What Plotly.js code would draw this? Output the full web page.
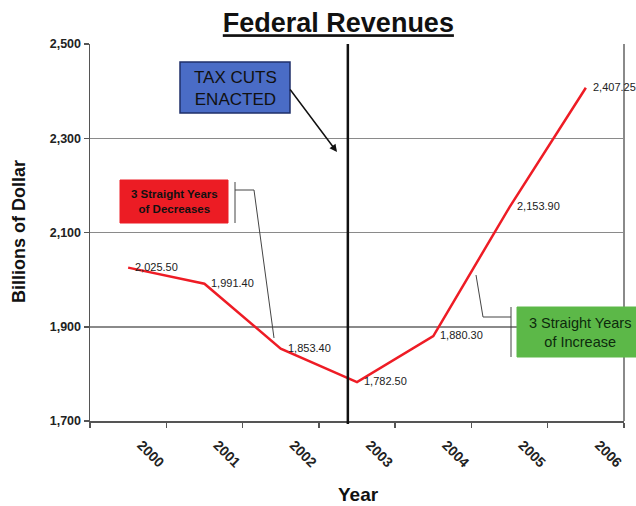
<!DOCTYPE html>
<html>
<head>
<meta charset="utf-8">
<script src="https://cdn.plot.ly/plotly-3.0.1.min.js"></script>
<style>html,body{margin:0;padding:0;background:#fff;}#chart{width:636px;height:506px;}</style>
</head>
<body>
<div id="chart"></div>
<script>
// Data
const years = ['2000', '2001', '2002', '2003', '2004', '2005', '2006'];
const revenues = [2025.50, 1991.40, 1853.40, 1782.50, 1880.30, 2153.90, 2407.25];
const valueLabels = ['2,025.50', '1,991.40', '1,853.40', '1,782.50', '1,880.30', '2,153.90', '2,407.25'];
const yTicks = [1700, 1900, 2100, 2300, 2500];
const yTickLabels = ['1,700', '1,900', '2,100', '2,300', '2,500'];

// Layout geometry (pixels)
const W = 636, H = 506;
const M = {l: 90, r: 12, t: 44, b: 85};
const PW = W - M.l - M.r, PH = H - M.t - M.b;
const px = X => (X - M.l) / PW;
const py = Y => (H - M.b - Y) / PH;

const FONT = 'Liberation Sans, Arial, sans-serif';

const trace = {
  type: 'scatter',
  mode: 'lines',
  x: years,
  y: revenues,
  line: {color: '#ee1c25', width: 2.5},
  hoverinfo: 'skip'
};

const line = (x0, y0, x1, y1, color, width) => ({
  type: 'line', xref: 'paper', yref: 'paper',
  x0: px(x0), y0: py(y0), x1: px(x1), y1: py(y1),
  line: {color: color, width: width}
});

const note = (X, Y, text, font, extra) => Object.assign({
  xref: 'paper', yref: 'paper', x: px(X), y: py(Y),
  xanchor: 'center', yanchor: 'middle', showarrow: false,
  text: text, font: font
}, extra || {});

const valueNotes = years.map((yr, i) => ({
  xref: 'x', yref: 'y', x: i, y: revenues[i],
  xanchor: 'left', yanchor: 'middle', xshift: 5, yshift: 1,
  showarrow: false, text: valueLabels[i],
  font: {family: FONT, size: 11, color: '#222'}
}));

const layout = {
  width: W, height: H,
  margin: M,
  paper_bgcolor: '#fff',
  plot_bgcolor: '#fff',
  showlegend: false,
  title: {
    text: '<b>Federal Revenues</b>',
    font: {family: FONT, size: 27, color: '#111', lineposition: 'under'},
    x: 0.532, xanchor: 'center', y: 0.955, yanchor: 'middle'
  },
  xaxis: {
    type: 'category',
    range: [-0.5, 6.5],
    showgrid: false,
    showline: true, linecolor: '#555', linewidth: 1.5,
    ticks: 'outside', tickson: 'boundaries', ticklen: 5, tickcolor: '#555', tickwidth: 1.5,
    tickangle: 45,
    ticklabelshift: 13,
    ticklabelstandoff: 9,
    tickfont: {family: FONT, size: 14, color: '#222', weight: 'bold'},
    zeroline: false,
    fixedrange: true
  },
  yaxis: {
    range: [1700, 2500],
    tickvals: yTicks,
    ticktext: yTickLabels,
    showgrid: true, gridcolor: '#8a8a8a', gridwidth: 1.5,
    showline: true, linecolor: '#555', linewidth: 1.5,
    ticks: 'outside', ticklen: 5, tickcolor: '#555', tickwidth: 1.5,
    tickfont: {family: FONT, size: 12.5, color: '#222', weight: 'bold'},
    zeroline: false,
    fixedrange: true
  },
  shapes: [
    line(624, 44, 624, 421, '#8a8a8a', 2),
    {type: 'line', xref: 'x', yref: 'paper', x0: 2.88, x1: 2.88, y0: py(424), y1: 1,
     line: {color: '#111', width: 2.5}},
    {type: 'rect', xref: 'paper', yref: 'paper', x0: px(120), x1: px(228), y0: py(223), y1: py(180),
     fillcolor: '#ec1c24', line: {color: '#ec1c24', width: 1}},
    line(235, 182, 235, 223, '#444', 1),
    line(235, 190, 254, 190, '#444', 1),
    line(254, 190, 274, 338, '#444', 1),
    {type: 'rect', xref: 'paper', yref: 'paper', x0: px(517), x1: px(645), y0: py(357), y1: py(307),
     fillcolor: '#5cb848', line: {color: '#5cb848', width: 1}},
    line(511, 307, 511, 357, '#444', 1),
    line(483, 317, 511, 317, '#444', 1),
    line(483, 317, 476, 275, '#444', 1),
    {type: 'rect', xref: 'paper', yref: 'paper', x0: px(180), x1: px(290), y0: py(113), y1: py(62),
     fillcolor: '#4a6cc6', line: {color: '#1f2f6a', width: 1.5}}
  ],
  annotations: [
    note(235, 88, 'TAX CUTS<br>ENACTED', {family: FONT, size: 17, color: '#111'}),
    {xref: 'paper', yref: 'paper', x: px(337), y: py(152), ax: 289 - 337, ay: 88 - 152,
     showarrow: true, arrowhead: 2, arrowsize: 1, arrowwidth: 1.5, arrowcolor: '#111', text: ''},
    note(174, 201, '<b>3 Straight Years<br>of Decreases</b>', {family: FONT, size: 11.5, color: '#111'}),
    note(580, 332, '3 Straight Years<br>of Increase', {family: FONT, size: 14.5, color: '#0d2a0d'}),
    note(19, 232, '<b>Billions of Dollar</b>', {family: FONT, size: 18, color: '#111'}, {textangle: -90}),
    note(358, 494, '<b>Year</b>', {family: FONT, size: 19, color: '#111'})
  ].concat(valueNotes)
};

Plotly.newPlot('chart', [trace], layout, {displayModeBar: false, staticPlot: true});
</script>
</body>
</html>
